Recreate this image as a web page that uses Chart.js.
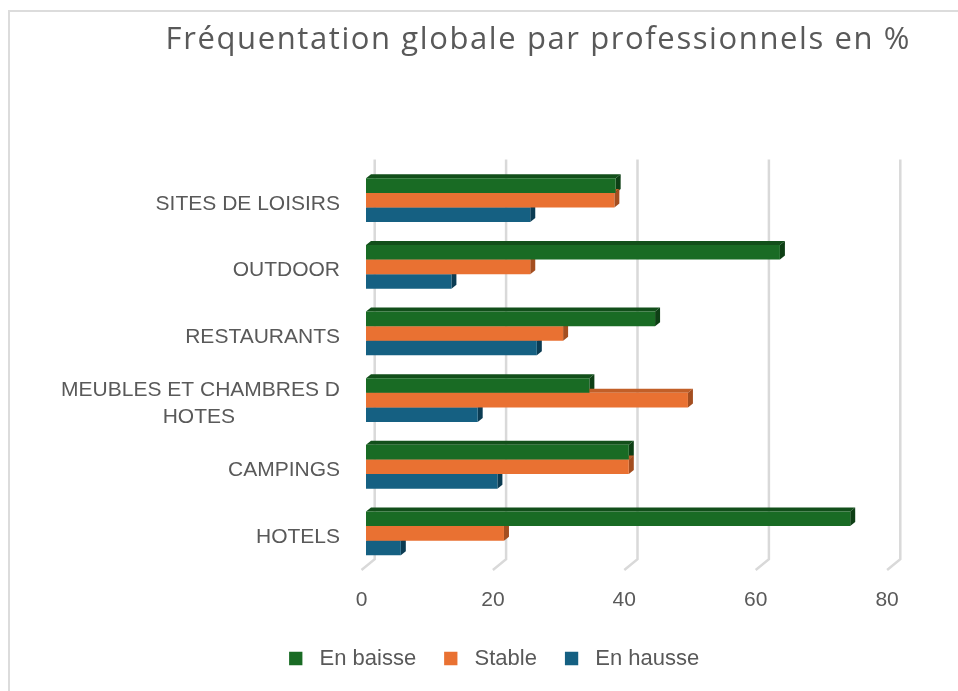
<!DOCTYPE html>
<html><head><meta charset="utf-8">
<script src="https://cdn.jsdelivr.net/npm/chart.js@4.4.1/dist/chart.umd.min.js"></script>
<style>
html,body{margin:0;padding:0;background:#fff;overflow:hidden;width:958px;height:691px;}
#frame{position:absolute;left:8px;top:10px;width:1200px;height:1200px;border:2px solid #DCDCDC;box-sizing:border-box;}
canvas{position:absolute;left:0;top:0;}
</style></head><body>
<div id="frame"></div>
<canvas id="c" width="958" height="691"></canvas>
<script>
// ---- data ----
const categories = ['SITES DE LOISIRS', 'OUTDOOR', 'RESTAURANTS', 'MEUBLES ET CHAMBRES D HOTES', 'CAMPINGS', 'HOTELS'];
const seriesNames = ['En baisse', 'Stable', 'En hausse'];
const enBaisse = [38, 63, 44, 34, 40, 73.7];
const stable   = [37.8, 25, 30, 49, 40, 21];
const enHausse = [25, 13, 26, 17, 20, 5.3];
const xTicks   = [0, 20, 40, 60, 80];
const chartTitle = 'Fréquentation globale par professionnels en %';

// ---- styles ----
const TEXT = '#595959';
const FAMILY = '"Liberation Sans", Arial, sans-serif';
const TITLE_FAMILY = '"Open Sans", "Liberation Sans", sans-serif';
const colors = ['#196B24', '#E97132', '#156082'];
const sideColors = ['#0E3F15', '#A44E20', '#0B3C53'];
const topColors = ['#124F1A', '#C25F28', '#104E6B'];
const CAT_FONT = 21;

// wrap long category labels and centre the lines (Excel style)
function wrapLabel(s, maxW) {
  const cv = document.createElement('canvas').getContext('2d');
  cv.font = CAT_FONT + 'px ' + FAMILY;
  if (cv.measureText(s).width <= maxW) return s;
  const words = s.split(' ');
  const lines = [];
  let cur = '';
  words.forEach(w => {
    const t = cur ? cur + ' ' + w : w;
    if (cv.measureText(t).width > maxW && cur) { lines.push(cur); cur = w; } else cur = t;
  });
  lines.push(cur);
  const widths = lines.map(l => cv.measureText(l).width);
  const maxL = Math.max(...widths);
  const sp = cv.measureText(' ').width;
  return lines.map((l, i) => l + ' '.repeat(Math.round((maxL - widths[i]) / 2 / sp)));
}
const labels = categories.map(c => wrapLabel(c, 295));

const D = {dx: 5, dy: 4};
const threeD = {
  id: 'threeD',
  afterLayout(chart) {
    chart.legend.left += 28.4;
    chart.legend.right += 28.4;
    const tb = chart.titleBlock;
    tb.left += 72.5;
    tb.right += 72.5;
    if (!tb._lsPatched) {
      const orig = tb.draw.bind(tb);
      tb.draw = function (a) {
        const c = chart.ctx;
        c.save();
        c.letterSpacing = '1.6px';
        orig(a);
        c.restore();
      };
      tb._lsPatched = true;
    }
  },
  beforeDatasetsDraw(chart) {
    const ctx = chart.ctx, xs = chart.scales.x, a = chart.chartArea;
    ctx.save();
    ctx.strokeStyle = '#D9D9D9';
    ctx.lineWidth = 2.5;
    xTicks.forEach(v => {
      const p = xs.getPixelForValue(v);
      ctx.beginPath();
      ctx.moveTo(p + 8.7, a.top - 7.5);
      ctx.lineTo(p + 8.7, a.bottom - 7.5);
      ctx.lineTo(p - 4.5, a.bottom + 3.3);
      ctx.stroke();
    });
    chart.data.datasets.forEach((ds, i) => {
      chart.getDatasetMeta(i).data.forEach(bar => {
        const {x, y, base, height} = bar.getProps(['x', 'y', 'base', 'height'], true);
        const t = y - height / 2, b = y + height / 2;
        ctx.fillStyle = topColors[i];
        ctx.beginPath();
        ctx.moveTo(base, t); ctx.lineTo(base + D.dx, t - D.dy);
        ctx.lineTo(x + D.dx, t - D.dy); ctx.lineTo(x, t);
        ctx.closePath(); ctx.fill();
        ctx.fillStyle = sideColors[i];
        ctx.beginPath();
        ctx.moveTo(x, t); ctx.lineTo(x + D.dx, t - D.dy);
        ctx.lineTo(x + D.dx, b - D.dy); ctx.lineTo(x, b);
        ctx.closePath(); ctx.fill();
      });
    });
    ctx.restore();
  }
};

Chart.defaults.font.family = FAMILY;
Chart.defaults.color = TEXT;

new Chart(document.getElementById('c'), {
  type: 'bar',
  data: {
    labels: labels,
    datasets: [
      {label: seriesNames[0], data: enBaisse, backgroundColor: colors[0]},
      {label: seriesNames[1], data: stable, backgroundColor: colors[1]},
      {label: seriesNames[2], data: enHausse, backgroundColor: colors[2]}
    ]
  },
  options: {
    indexAxis: 'y',
    responsive: false,
    animation: false,
    events: [],
    datasets: {bar: {barPercentage: 1, categoryPercentage: 0.657, borderWidth: 0}},
    layout: {padding: {left: 40, right: 66.4, top: 0, bottom: 11.5}},
    scales: {
      x: {
        min: 0, max: 80,
        grid: {display: false},
        border: {display: false},
        ticks: {stepSize: 20, color: TEXT, font: {size: 21}, padding: 12.7, labelOffset: -4.5},
        afterFit(s) { s.height = 52.8; s.paddingLeft = 0; s.paddingRight = 0; }
      },
      y: {
        grid: {display: false, drawTicks: false},
        border: {display: false},
        ticks: {color: TEXT, font: {size: CAT_FONT, lineHeight: 1.32}, padding: 26, autoSkip: false, labelOffset: 3.5},
        afterFit(s) { s.width = 326; s.paddingTop = 0; s.paddingBottom = 0; }
      }
    },
    plugins: {
      tooltip: {enabled: false},
      title: {
        display: true, text: chartTitle, color: TEXT,
        font: {size: 31, weight: 'normal', family: TITLE_FAMILY},
        padding: {top: 21.7, bottom: 108}
      },
      legend: {
        position: 'bottom',
        labels: {
          color: TEXT, font: {size: 22}, boxWidth: 13.3, boxHeight: 13.3, padding: 28,
          generateLabels(chart) {
            return Chart.defaults.plugins.legend.labels.generateLabels(chart)
              .map(l => Object.assign(l, {text: ' ' + l.text, lineWidth: 0}));
          }
        }
      }
    }
  },
  plugins: [threeD]
});
</script>
</body></html>
